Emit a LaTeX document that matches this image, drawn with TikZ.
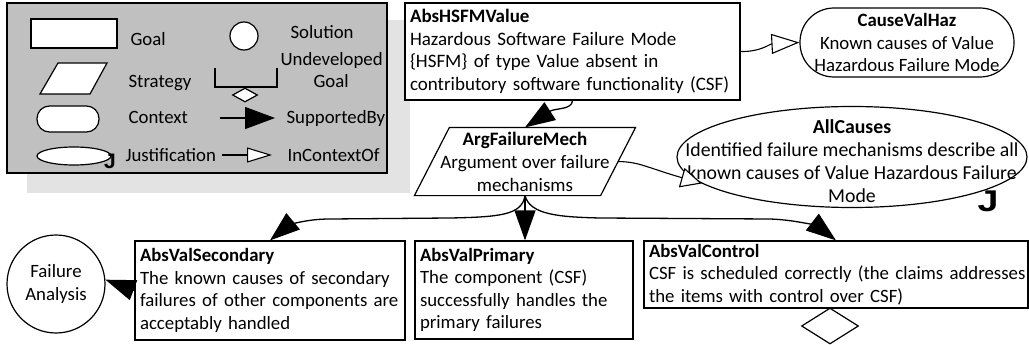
\documentclass[tikz,border=0pt]{standalone}
\usepackage{fontspec}
\setmainfont{Carlito}
\newfontfamily\jfont{Liberation Sans}
\usetikzlibrary{arrows.meta,shapes.geometric}
\definecolor{legendgray}{HTML}{C0C0C0}
\definecolor{shadowgray}{HTML}{E3E3E3}

\begin{document}
\begin{tikzpicture}[x=1pt,y=-1pt,
  every node/.style={font=\fontsize{18.8}{22.5}\selectfont},
  line width=1.2pt,
  goalbox/.style={draw, fill=white, rectangle, align=left, inner xsep=5pt, inner ysep=0pt},
  ctxbox/.style={draw, fill=white, rectangle, align=center, inner sep=0pt},
  justbox/.style={draw, fill=white, ellipse, inner sep=0pt},
  solbox/.style={draw, fill=white, circle, align=center, inner sep=0pt},
  undevmark/.style={draw, fill=white, diamond, inner sep=0pt},
  supby/.style={-{Triangle[length=30pt,width=21pt]}, line width=1.3pt},
  inctx/.style={-{Triangle[open,length=25pt,width=18pt,fill=white]}, line width=1.1pt},
  jmark/.style={font=\jfont\bfseries\fontsize{30}{30}\selectfont, inner sep=0pt},
  lbl/.style={anchor=base west, inner sep=0pt},
  plaintext/.style={inner sep=0pt, align=center, font=\fontsize{19}{23}\selectfont},
]
\useasboundingbox (0,0) rectangle (1029,345);

% ---------- legend ----------
\fill[shadowgray] (27,20) rectangle (410,193);
\draw[fill=legendgray, line width=1.4pt] (7,3) rectangle (387,173);

\node[draw, fill=white, minimum width=86pt, minimum height=29pt, inner sep=0pt] (lgoal) at (74,33.5) {};
\node[lbl] (lgoaltxt) at (130,46) {Goal};

\coordinate (lstrat) at (73.5,78.5);
\draw[fill=white] (lstrat) ++(-15.5,-15.5) -- ++(49,0) -- ++(-17,31) -- ++(-50,0) -- cycle;
\node[lbl] (lstrattxt) at (128,88) {Strategy};

\node[ctxbox, rounded corners=12.5pt, minimum width=62pt, minimum height=26pt] (lctx) at (68,119) {};
\node[lbl] (lctxtxt) at (128,124) {Context};

\node[justbox, minimum width=74pt, minimum height=18pt] (ljust) at (74,156) {};
\node[jmark, font=\jfont\bfseries\fontsize{21}{21}\selectfont] (ljustj) at (110,161) {J};
\node[lbl] (ljusttxt) at (125,161) {Justification};

\node[solbox, minimum size=28pt] (lsol) at (244,36) {};
\node[lbl] (lsoltxt) at (290,39) {Solution};

\coordinate (lbrA) at (215,68);
\coordinate (lbrB) at (277,68);
\draw (lbrA) -- (215,87) -- (277,87) -- (lbrB);
\node[undevmark, minimum width=25pt, minimum height=14pt] (ldia) at (245,95) {};
\node[lbl] (lundevtxt) at (280,66) {Undeveloped};
\node[lbl] (lundevtxtb) at (313,88) {Goal};

\coordinate (lsbA) at (220,118);
\coordinate (lsbB) at (275,118);
\draw[supby, -{Triangle[length=30pt,width=22pt]}] (lsbA) -- (lsbB);
\node[lbl] (lsbtxt) at (286,124) {SupportedBy};

\coordinate (licA) at (222,155);
\coordinate (licB) at (272,155);
\draw[inctx, -{Triangle[open,length=25pt,width=15pt,fill=white]}] (licA) -- (licB);
\node[lbl] (lictxt) at (287,161) {InContextOf};

% ---------- argument ----------
\node[goalbox, minimum width=335pt, minimum height=97pt, text width=325pt,
      font=\fontsize{19}{22.5}\selectfont] (hsfm) at (572.5,51.5)
  {\textbf{AbsHSFMValue}\\\mbox{Hazardous Software Failure Mode}\\\mbox{\{HSFM\} of type Value absent in}\\\mbox{contributory software functionality (CSF)}};

\node[ctxbox, rounded corners=34pt, minimum width=214pt, minimum height=69pt] (cvh) at (907,42.5)
  {\textbf{CauseValHaz}\\Known causes of Value\\Hazardous Failure Mode};

% strategy: text node with a parallelogram outline round it
\node[plaintext, minimum width=185pt, minimum height=67pt] (arg) at (525,161.5)
  {\textbf{ArgFailureMech}\\Argument over failure\\mechanisms};
\draw ([xshift=17.5pt]arg.north west) -- ([xshift=17.5pt]arg.north east)
  -- ([xshift=-17.5pt]arg.south east) -- ([xshift=-17.5pt]arg.south west) -- cycle;

% justification: ellipse with its text and J mark
\node[justbox, minimum width=350pt, minimum height=101pt] (allc) at (852,157) {};
\node[plaintext, font=\fontsize{19.8}{23}\selectfont] (allctxt) at (852,161)
  {\textbf{AllCauses}\\Identified failure mechanisms describe all\\known causes of Value Hazardous Failure\\Mode};
\node[jmark] (allcj) at (988,201) {\scalebox{1.25}[1]{J}};

\node[goalbox, minimum width=270pt, minimum height=99pt, text width=260pt] (sec) at (270,290.5)
  {\textbf{AbsValSecondary}\\\mbox{The known causes of secondary}\\\mbox{failures of other components are}\\\mbox{acceptably handled}};

\node[goalbox, minimum width=218pt, minimum height=98pt, text width=208pt] (prim) at (524,290)
  {\textbf{AbsValPrimary}\\\mbox{The component (CSF)}\\\mbox{successfully handles the}\\\mbox{primary failures}};

\node[goalbox, minimum width=384pt, minimum height=67pt, text width=374pt] (ctrl) at (836,274.5)
  {\textbf{AbsValControl}\\\mbox{CSF is scheduled correctly (the claims addresses}\\\mbox{the items with control over CSF)}};

\node[undevmark, minimum width=57pt, minimum height=36pt] (ctrlund) at (830,326) {};

\node[solbox, minimum size=98pt] (fa) at (56,284) {Failure\\Analysis};

% ---------- connectors ----------
\draw[supby] (hsfm.south) .. controls (572,110) and (555,108) .. (arg.north);
\draw[inctx, -{Triangle[open,length=28pt,width=20pt,fill=white]}]
  (hsfm.east) .. controls (760,52) and (770,44) .. (cvh.west);
\draw[inctx, -{Triangle[open,length=21pt,width=20pt,fill=white]}]
  (arg.east) .. controls (640,162) and (645,167) .. (allc.190);
\draw[supby] (arg.south) -- (arg.south |- prim.north);
\draw[supby] (arg.south) .. controls (522,215) and (500,217) .. (450,218) -- (330,219)
  .. controls (300,219) and (285,228) .. (sec.north);
\draw[supby] (arg.south) .. controls (530,215) and (560,217) .. (600,218) -- (770,219)
  .. controls (800,220) and (820,228) .. (ctrl.north);
\draw[supby] (sec.west) -- (fa.5);
\end{tikzpicture}
\end{document}
